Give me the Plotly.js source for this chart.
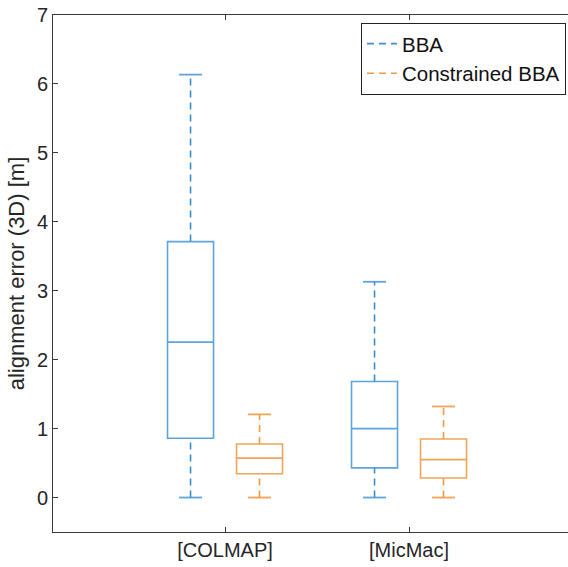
<!DOCTYPE html>
<html>
<head>
<meta charset="utf-8">
<script src="https://cdn.plot.ly/plotly-3.0.1.min.js"></script>
<style>
html,body{margin:0;padding:0;overflow:hidden;background:#fff;}
#chart{width:568px;height:567px;}
</style>
</head>
<body>
<div id="chart"></div>
<script>
// ---- data ----
var categories = ['[COLMAP]', '[MicMac]'];
var seriesNames = ['BBA', 'Constrained BBA'];

var bbaLower  = [0.00, 0.00];
var bbaQ1     = [0.86, 0.43];
var bbaMedian = [2.255, 1.00];
var bbaQ3     = [3.713, 1.683];
var bbaUpper  = [6.135, 3.13];

var conLower  = [0.00, 0.00];
var conQ1     = [0.346, 0.283];
var conMedian = [0.572, 0.55];
var conQ3     = [0.776, 0.85];
var conUpper  = [1.206, 1.321];

var yTicks = [0, 1, 2, 3, 4, 5, 6, 7];

// ---- styling / layout helpers ----
var FONT = 'Liberation Sans, Arial, Helvetica, sans-serif';
var groupIdx = categories.map(function(c, i){ return i; });
var OFFSET = 0.1875, BOXW = 0.25, CAPW = 0.125;

function seriesTraces(name, offset, lower, q1, med, q3, upper, boxColor, lineColor){
  var pos = groupIdx.map(function(i){ return i + offset; });
  var box = {
    type: 'box', name: name, showlegend: false,
    x: pos, q1: q1, median: med, q3: q3,
    lowerfence: q1, upperfence: q3,
    width: BOXW, whiskerwidth: 0, boxpoints: false,
    line: {color: boxColor, width: 1.6},
    fillcolor: 'rgba(0,0,0,0)', hoverinfo: 'skip'
  };
  var wx = [], wy = [], cx = [], cy = [];
  pos.forEach(function(p, k){
    wx.push(p, p, null, p, p, null);
    wy.push(q3[k], upper[k], null, lower[k], q1[k], null);
    cx.push(p - CAPW/2, p + CAPW/2, null, p - CAPW/2, p + CAPW/2, null);
    cy.push(upper[k], upper[k], null, lower[k], lower[k], null);
  });
  var whisk = {
    type: 'scatter', mode: 'lines', name: name,
    x: wx, y: wy, line: {color: lineColor, width: 1.6, dash: '7px,5px'},
    hoverinfo: 'skip'
  };
  var caps = {
    type: 'scatter', mode: 'lines', name: name, showlegend: false,
    x: cx, y: cy, line: {color: boxColor, width: 1.8},
    hoverinfo: 'skip'
  };
  return [box, caps, whisk];
}

var traces = []
  .concat(seriesTraces(seriesNames[0], -OFFSET, bbaLower, bbaQ1, bbaMedian, bbaQ3, bbaUpper, '#5ea4da', '#3b8fd0'))
  .concat(seriesTraces(seriesNames[1],  OFFSET, conLower, conQ1, conMedian, conQ3, conUpper, '#efa458', '#ef9a48'));

var axisColor = '#3a3a3a';
var layout = {
  width: 568, height: 567,
  margin: {l: 53, r: 0, t: 15, b: 35, pad: 0},
  paper_bgcolor: '#fff', plot_bgcolor: '#fff',
  font: {family: FONT, color: '#262626', size: 20},
  showlegend: true,
  legend: {
    x: 0.598, y: 0.985, xanchor: 'left', yanchor: 'top',
    bgcolor: '#fff', bordercolor: '#222', borderwidth: 1,
    font: {family: FONT, size: 20.5, color: '#111'},
    tracegroupgap: 0, itemwidth: 30
  },
  xaxis: {
    range: [-0.935, 1.864], tickmode: 'array', tickvals: groupIdx, ticktext: categories,
    ticks: 'inside', ticklen: 5, tickcolor: axisColor, tickwidth: 1,
    showline: true, linecolor: axisColor, linewidth: 1, mirror: 'ticks',
    showgrid: false, zeroline: false, fixedrange: true, automargin: false,
    tickfont: {family: FONT, size: 20, color: '#262626'}
  },
  yaxis: {
    range: [-0.5, 7], tickmode: 'array', tickvals: yTicks,
    ticks: 'inside', ticklen: 5, tickcolor: axisColor, tickwidth: 1,
    showline: true, linecolor: axisColor, linewidth: 1, mirror: false,
    showgrid: false, zeroline: false, fixedrange: true, automargin: false,
    tickfont: {family: FONT, size: 20, color: '#262626'},
    title: {text: 'alignment error (3D) [m]', font: {family: FONT, size: 22, color: '#262626'}, standoff: 6}
  },
  yaxis2: {
    overlaying: 'y', side: 'right', anchor: 'x',
    range: [-0.5, 7], tickmode: 'array', tickvals: yTicks,
    ticks: 'inside', ticklen: 5, tickcolor: axisColor, tickwidth: 1,
    showline: false, showticklabels: false,
    showgrid: false, zeroline: false, fixedrange: true, automargin: false
  },
  boxmode: 'overlay'
};

Plotly.newPlot('chart', traces, layout, {displayModeBar: false, staticPlot: true});
</script>
</body>
</html>
